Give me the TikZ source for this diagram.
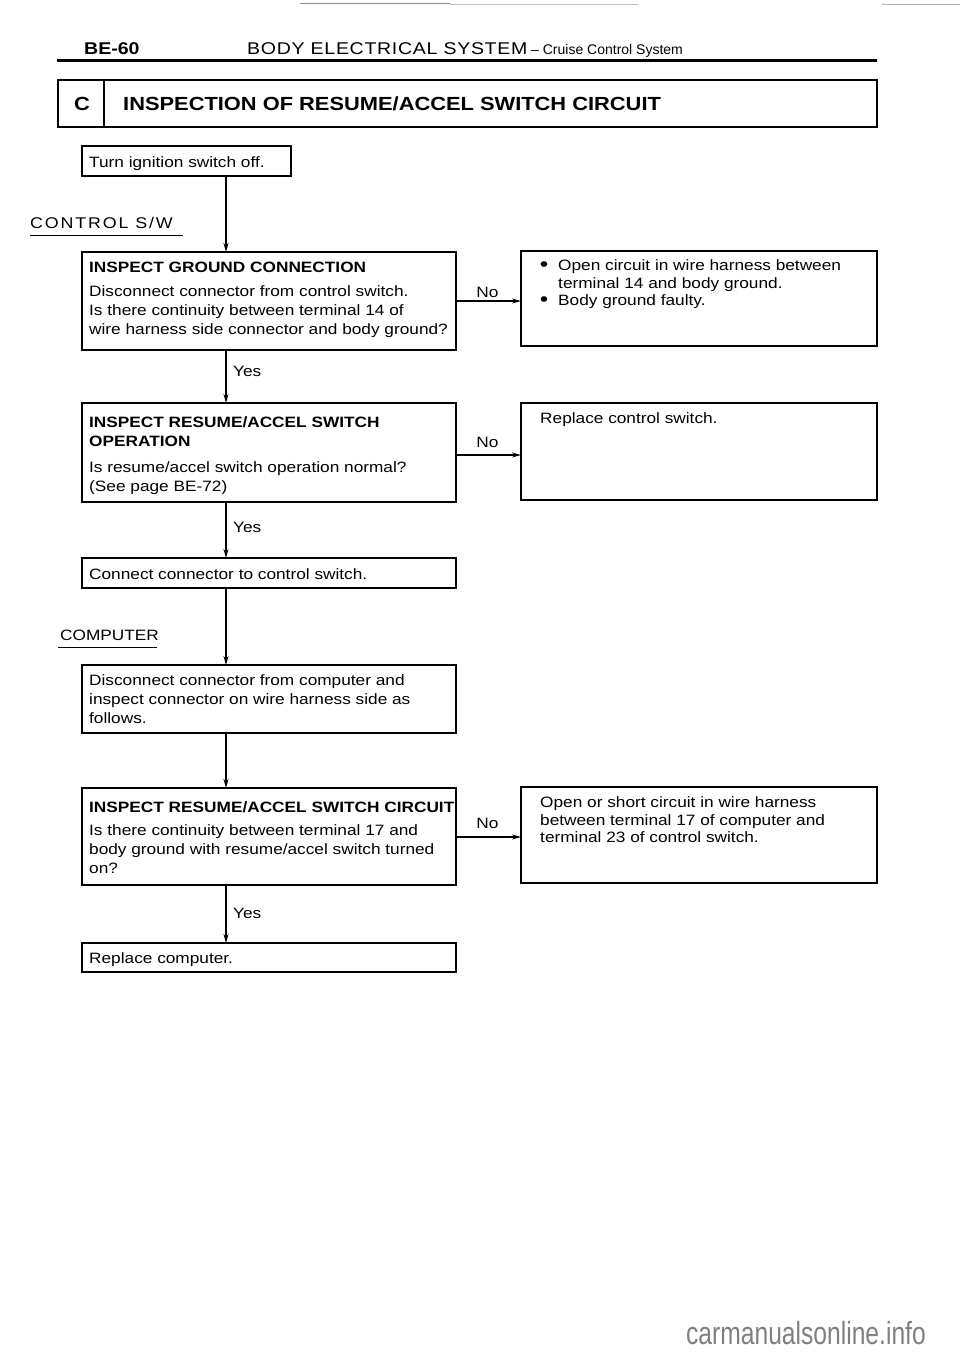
\documentclass[tikz,border=0pt]{standalone}
\usepackage{fontspec}
\setmainfont{Liberation Sans}[FakeStretch=1.15]
\newfontfamily\hdr{Liberation Sans}
\usetikzlibrary{arrows.meta}
\newcommand{\bigbul}{\llap{{\fontsize{21}{0}\selectfont\raisebox{-1.2pt}{\textbullet}}\hspace{10pt}}}
\begin{document}
\begin{tikzpicture}[x=1pt,y=-1pt,
  box/.style={draw, line width=1.2pt, inner sep=0pt, outer sep=0pt, anchor=north west},
  txt/.style={anchor=north west, inner sep=0pt, align=left, font=\fontsize{15}{19}\selectfont},
  rtxt/.style={anchor=north west, inner sep=0pt, align=left, font=\fontsize{15}{17.5}\selectfont},
  arr/.style={line width=1.2pt, -{Stealth[length=9pt,width=5pt]}},
  lbl/.style={inner sep=0pt, font=\fontsize{15}{18}\selectfont},
]
\useasboundingbox[fill=white] (0,0) rectangle (960,1356);

% scan artefacts at the top
\draw[black!45, line width=1pt] (300,4) -- (450,4);
\draw[black!25, line width=0.8pt] (450,4) -- (638,4);
\draw[black!30, line width=0.8pt] (882,4) -- (960,4);

% page header
\node[anchor=base west, inner sep=0pt, font=\bfseries\fontsize{17}{17}\selectfont] (pg) at (84,55) {BE-60};
\node[anchor=base west, inner sep=0pt, font=\fontsize{17}{17}\selectfont\addfontfeature{LetterSpace=4}] (hd) at (247,55) {BODY ELECTRICAL SYSTEM};
\node[anchor=base west, inner sep=0pt, font=\hdr\fontsize{14}{14}\selectfont] (hd2) at (531,55) {\textendash{} Cruise Control System};
\draw[line width=3pt] (57,60.5) -- (877,60.5);

% title box
\node[box, minimum width=819pt, minimum height=47pt] (title) at (58,80) {};
\coordinate (dv) at (104,0);
\draw[line width=1.1pt] (title.north -| dv) -- (title.south -| dv);
\node[inner sep=0pt, font=\bfseries\fontsize{19}{19}\selectfont] (tc) at (82,104) {C};
\node[anchor=west, inner sep=0pt, font=\bfseries\fontsize{19}{19}\selectfont] (tt) at (123,104) {INSPECTION OF RESUME/ACCEL SWITCH CIRCUIT};

% side labels
\node[anchor=west, inner sep=0pt, font=\fontsize{15.5}{18}\selectfont\addfontfeature{LetterSpace=12}] (csw) at (30,223) {CONTROL S/W};
\draw[line width=0.9pt] (30,235) -- (183,235);
\node[anchor=west, inner sep=0pt, font=\fontsize{15}{18}\selectfont] (cmp) at (60,635) {COMPUTER};
\draw[line width=0.9pt] (58,647) -- (157,647);

% boxes
\node[box, minimum width=209pt, minimum height=30pt] (b1) at (82,146) {};
\node[box, minimum width=374pt, minimum height=98pt] (b2) at (82,252) {};
\node[box, minimum width=356pt, minimum height=95pt] (b3) at (521,251) {};
\node[box, minimum width=374pt, minimum height=99pt] (b4) at (82,403) {};
\node[box, minimum width=356pt, minimum height=97pt] (b5) at (521,403) {};
\node[box, minimum width=374pt, minimum height=30pt] (b6) at (82,558) {};
\node[box, minimum width=374pt, minimum height=68pt] (b7) at (82,665) {};
\node[box, minimum width=374pt, minimum height=97pt] (b8) at (82,788) {};
\node[box, minimum width=356pt, minimum height=96pt] (b9) at (521,787) {};
\node[box, minimum width=374pt, minimum height=29pt] (b10) at (82,943) {};

% texts
\node[txt] (t1) at (89,156) {Turn ignition switch off.};
\node[txt] (t2) at (89,261.5) {\textbf{INSPECT GROUND CONNECTION}\\[5pt]
Disconnect connector from control switch.\\
Is there continuity between terminal 14 of\\
wire harness side connector and body ground?};
\node[rtxt] (t3) at (558,259.5) {\bigbul Open circuit in wire harness between\\
terminal 14 and body ground.\\
\bigbul Body ground faulty.};
\node[txt] (t4) at (89,416.5) {\textbf{INSPECT RESUME/ACCEL SWITCH}\\
\textbf{OPERATION}\\[7pt]
Is resume/accel switch operation normal?\\
(See page BE-72)};
\node[rtxt] (t5) at (540,412.5) {Replace control switch.};
\node[txt] (t6) at (89,568.5) {Connect connector to control switch.};
\node[txt] (t7) at (89,674.5) {Disconnect connector from computer and\\
inspect connector on wire harness side as\\
follows.};
\node[txt] (t8) at (89,801.5) {\textbf{INSPECT RESUME/ACCEL SWITCH CIRCUIT}\\[4pt]
Is there continuity between terminal 17 and\\
body ground with resume/accel switch turned\\
on?};
\node[rtxt] (t9) at (540,796.5) {Open or short circuit in wire harness\\
between terminal 17 of computer and\\
terminal 23 of control switch.};
\node[txt] (t10) at (89,952.5) {Replace computer.};

% main spine connectors
\coordinate (sp) at (226,0);
\draw[arr] (b1.south -| sp) -- (b2.north -| sp);
\draw[arr] (b2.south -| sp) -- (b4.north -| sp);
\draw[arr] (b4.south -| sp) -- (b6.north -| sp);
\draw[arr] (b6.south -| sp) -- (b7.north -| sp);
\draw[arr] (b7.south -| sp) -- (b8.north -| sp);
\draw[arr] (b8.south -| sp) -- (b10.north -| sp);

\node[lbl, anchor=west] (y1) at (233,371) {Yes};
\node[lbl, anchor=west] (y2) at (233,527) {Yes};
\node[lbl, anchor=west] (y3) at (233,913) {Yes};

% No branches
\coordinate (h1) at (0,301);
\coordinate (h2) at (0,455);
\coordinate (h3) at (0,837);
\draw[arr] (b2.east |- h1) -- (b3.west |- h1);
\draw[arr] (b4.east |- h2) -- (b5.west |- h2);
\draw[arr] (b8.east |- h3) -- (b9.west |- h3);
\node[lbl] (n1) at (487.5,292) {No};
\node[lbl] (n2) at (487.5,442) {No};
\node[lbl] (n3) at (487.5,823) {No};

% watermark
\node[anchor=base east, inner sep=0pt, text=black!50] (wm) at (926,1344)
  {\scalebox{0.77}[1]{\hdr\fontsize{32}{32}\selectfont carmanualsonline.info}};
\end{tikzpicture}
\end{document}
